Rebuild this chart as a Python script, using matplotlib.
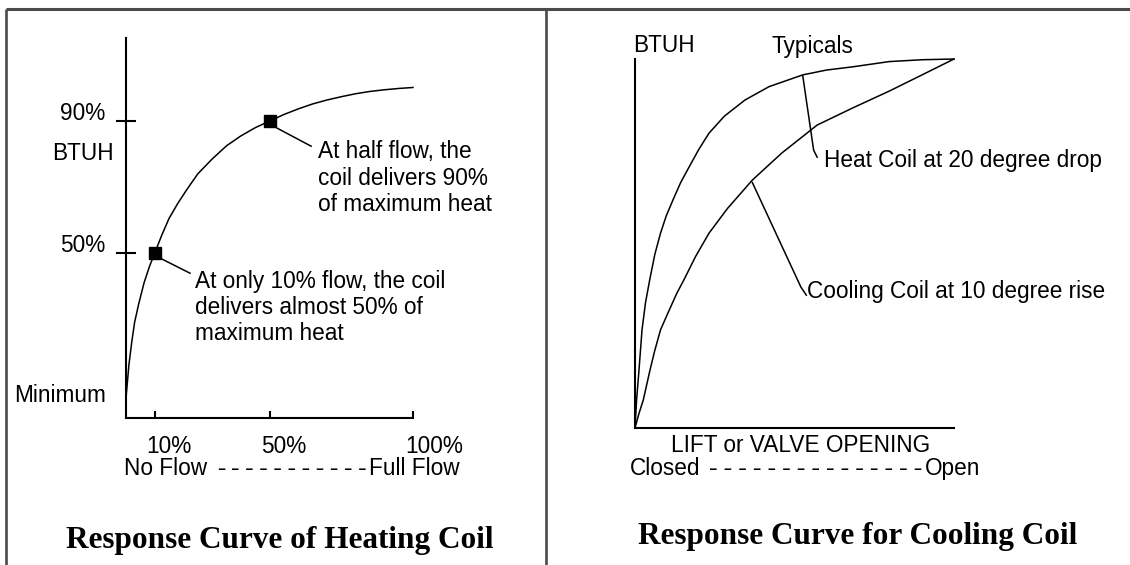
"""
Response curves of a heating coil and a cooling coil (two framed panels)
"""
import matplotlib
matplotlib.use('Agg')
import matplotlib.pyplot as plt
from matplotlib.transforms import ScaledTranslation

W, H, DPI = 1130, 565, 100

# ── data: heating coil (left panel), % flow vs % BTUH ────────────
flow_pct = [0, 0.5, 1, 2, 3, 4.4, 6.3, 8.2, 10, 12.5, 15, 18, 21, 25, 30, 35,
            40, 45, 50, 55, 60, 65, 70, 75, 80, 85, 90, 95, 100]
heat_btuh_pct = [6, 11, 16, 23, 29, 34.5, 41, 46, 50, 55.5, 60.5, 65, 69, 74,
                 78.5, 82.5, 85.5, 88, 90, 92, 93.7, 95.2, 96.4, 97.4, 98.3,
                 99, 99.5, 99.9, 100.2]
marked_flow = [10, 50]
marked_btuh = [50, 90]
flow_ticks = [10, 50, 100]
flow_tick_labels = ['10%', '50%', '100%']
btuh_ticks = [50, 90]
btuh_tick_labels = ['50%', '90%']

# ── data: cooling panel, % lift vs % BTUH ────────────────────────
lift_heat = [0, 0.5, 1.25, 2.2, 3.3, 4.6, 6.2, 8.0, 9.8, 11.9, 14.3, 17.0, 20,
             23.2, 28, 34.5, 42, 52.6, 60, 68.4, 79.7, 90, 100]
btuh_heat = [0, 7.6, 15.7, 26.6, 34, 40.1, 47, 52.8, 57.5, 61.8, 66.5, 70.8,
             75.5, 79.9, 84.5, 88.9, 92.5, 95.7, 97, 97.9, 99.3, 99.8, 100]
lift_cool = [0, 1.2, 2.6, 4.7, 6.2, 8.0, 10.5, 13.1, 15.3, 19, 23.2, 29, 36.8,
             46, 57.1, 68.4, 79.7, 90, 100]
btuh_cool = [0, 3.8, 7.6, 15.7, 21, 26.6, 31.5, 36.5, 40.1, 46.5, 52.8, 59.5,
             67.2, 74.5, 82.1, 86.8, 91.3, 95.7, 100]

# leader lines (data coords of each panel)
leader_half_x, leader_half_y = [52.6, 64.5], [87.9, 82.4]
leader_ten_x, leader_ten_y = [11.8, 22.3], [48.5, 43.9]
leader_hc_x, leader_hc_y = [52.6, 56.0, 57.1], [95.4, 75.3, 73.4]
leader_cc_x, leader_cc_y = [36.8, 52.0, 53.7], [66.5, 38.2, 36.0]

SANS = 'Liberation Sans'
SERIF = 'Liberation Serif'
MONO = 'Liberation Mono'
FS = 16.3
TFS = 22.5
FRAME = '#4a4a4a'

fig = plt.figure(figsize=(W / DPI, H / DPI), dpi=DPI)
fig.patch.set_facecolor('white')


def px_axes(x0, y0, x1, y1):
    # box given in pixels, y measured from the top
    return fig.add_axes([x0 / W, 1 - y1 / H, (x1 - x0) / W, (y1 - y0) / H])


# ── background layer: frame + free text (pixel coords) ───────────
bg = fig.add_axes([0, 0, 1, 1])
bg.set_xlim(0, W)
bg.set_ylim(H, 0)
bg.axis('off')
bg.plot([5.5, W], [8.5, 8.5], color=FRAME, lw=2.2, solid_capstyle='butt')
bg.plot([5.5, 5.5], [8.5, H], color=FRAME, lw=1.9, solid_capstyle='butt')
bg.plot([546, 546], [8.5, H], color=FRAME, lw=1.9, solid_capstyle='butt')


def txt(x, y, s, ha='left', **kw):
    kw.setdefault('family', SANS)
    kw.setdefault('fontsize', FS)
    bg.text(x, y, s, ha=ha, va='baseline', color='black', **kw)


# left panel text
txt(52, 160.5, 'BTUH')
txt(14, 401.5, 'Minimum')
txt(124, 475, 'No Flow')
txt(214, 475, '-' * 11, family=MONO, fontsize=17)
txt(369, 475, 'Full Flow')
for yb, line in zip([158, 185, 211],
                    ['At half flow, the', 'coil delivers 90%', 'of maximum heat']):
    txt(318, yb, line)
for yb, line in zip([288, 314, 340],
                    ['At only 10% flow, the coil', 'delivers almost 50% of', 'maximum heat']):
    txt(195, yb, line)
txt(280, 548, 'Response Curve of Heating Coil', ha='center',
    family=SERIF, fontsize=TFS, fontweight='bold')

# right panel text
txt(633.5, 52.5, 'BTUH')
txt(771, 52.5, 'Typicals')
txt(823.5, 166.5, 'Heat Coil at 20 degree drop')
txt(807, 298, 'Cooling Coil at 10 degree rise')
txt(671, 451.5, 'LIFT or VALVE OPENING')
txt(630, 475, 'Closed')
txt(706, 475, '-' * 15, family=MONO, fontsize=17.6)
txt(925, 475, 'Open')
txt(858, 544, 'Response Curve for Cooling Coil', ha='center',
    family=SERIF, fontsize=TFS, fontweight='bold')


def axis_style(ax):
    ax.set_facecolor('none')
    for s in ['top', 'right']:
        ax.spines[s].set_visible(False)
    for s in ['left', 'bottom']:
        ax.spines[s].set_linewidth(1.5)
        ax.spines[s].set_color('black')


# ── left: heating coil ───────────────────────────────────────────
ax1 = px_axes(126, 38, 413, 418)
axis_style(ax1)
ax1.set_xlim(0, 100)
ax1.set_ylim(0, 115.2)
ax1.plot(flow_pct, heat_btuh_pct, color='black', lw=1.1, clip_on=False)
ax1.plot(marked_flow, marked_btuh, ls='none', marker='s', ms=8.3,
         color='black', clip_on=False)
ax1.plot(leader_half_x, leader_half_y, color='black', lw=1.1, clip_on=False)
ax1.plot(leader_ten_x, leader_ten_y, color='black', lw=1.1, clip_on=False)
ax1.set_xticks(flow_ticks)
ax1.set_yticks(btuh_ticks)
ax1.tick_params(axis='x', direction='in', length=5, width=1.5, labelbottom=False)
ax1.tick_params(axis='y', direction='inout', length=15, width=1.5, labelleft=False)
xl_tr = ax1.get_xaxis_transform() + ScaledTranslation(-8 / DPI, -35 / DPI, fig.dpi_scale_trans)
for t, lab in zip(flow_ticks, flow_tick_labels):
    ax1.text(t, 0, lab, ha='left', va='baseline', transform=xl_tr,
             family=SANS, fontsize=FS)
yl_tr = ax1.get_yaxis_transform() + ScaledTranslation(-21 / DPI, 1 / DPI, fig.dpi_scale_trans)
for t, lab in zip(btuh_ticks, btuh_tick_labels):
    ax1.text(0, t, lab, ha='right', va='baseline', transform=yl_tr,
             family=SANS, fontsize=FS)

# ── right: cooling coil ──────────────────────────────────────────
ax2 = px_axes(635, 59, 954, 428)
axis_style(ax2)
ax2.set_xlim(0, 100)
ax2.set_ylim(0, 100)
ax2.set_xticks([])
ax2.set_yticks([])
ax2.plot(lift_heat, btuh_heat, color='black', lw=1.1, clip_on=False)
ax2.plot(lift_cool, btuh_cool, color='black', lw=1.1, clip_on=False)
ax2.plot(leader_hc_x, leader_hc_y, color='black', lw=1.1, clip_on=False)
ax2.plot(leader_cc_x, leader_cc_y, color='black', lw=1.1, clip_on=False)

fig.savefig('out.png', dpi=DPI, facecolor='white')
plt.close(fig)
